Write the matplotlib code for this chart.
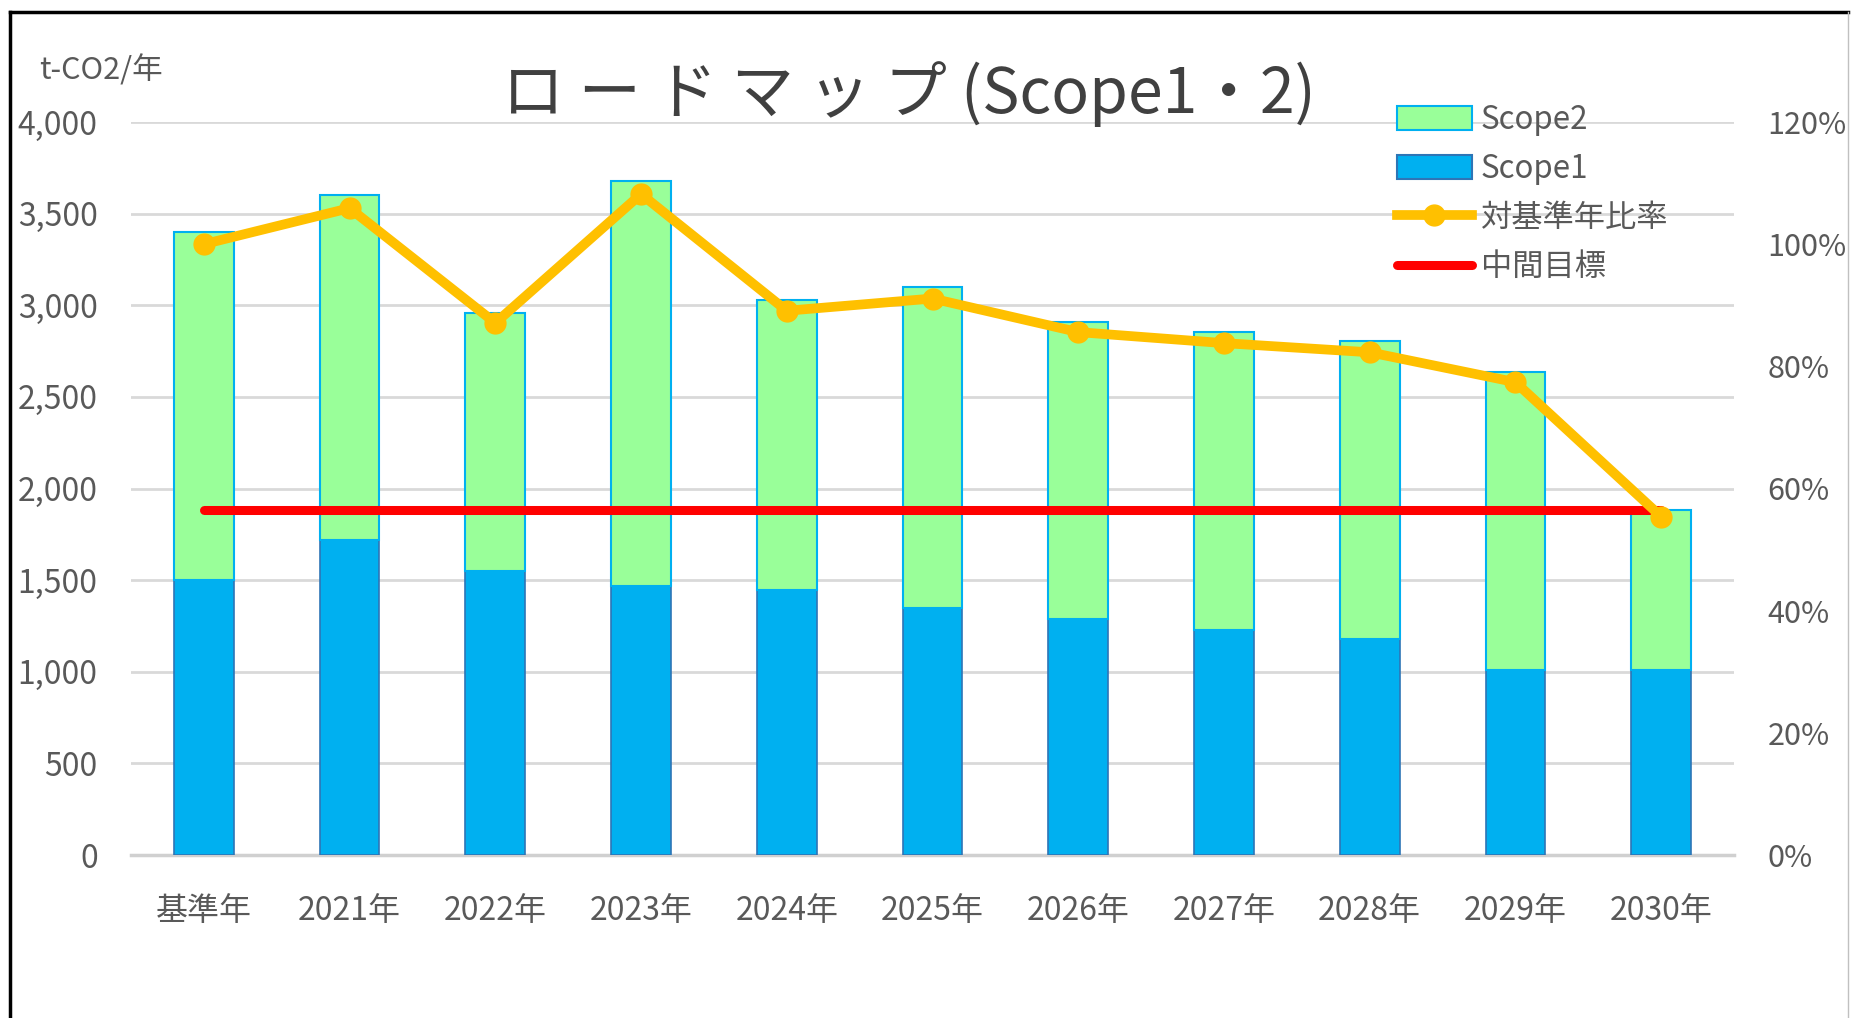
import matplotlib
matplotlib.use('Agg')
import matplotlib.pyplot as plt
from matplotlib.ticker import FuncFormatter, MultipleLocator
from matplotlib.patches import Patch
from matplotlib.lines import Line2D

plt.rcParams['font.family'] = ['Noto Sans CJK JP', 'DejaVu Sans']

# data
years = ['基準年', '2021年', '2022年', '2023年', '2024年', '2025年',
         '2026年', '2027年', '2028年', '2029年', '2030年']
scope1 = [1500, 1720, 1550, 1470, 1445, 1350, 1290, 1230, 1180, 1010, 1010]
scope2 = [1900, 1880, 1410, 2210, 1585, 1750, 1620, 1625, 1625, 1625, 875]
ratio = [1.000, 1.059, 0.871, 1.082, 0.891, 0.911, 0.856, 0.838, 0.823, 0.774, 0.554]
target = [1880] * 11

text_col = '#595959'
grid_col = '#D9D9D9'

fig = plt.figure(figsize=(18.51, 10.18), dpi=100)

# outer frame of the chart
fig.add_artist(plt.Line2D([10/1851, 10/1851], [0, 1 - 12/1018], transform=fig.transFigure,
                          color='black', lw=2.5))
fig.add_artist(plt.Line2D([10/1851, 1848/1851], [1 - 12/1018, 1 - 12/1018], transform=fig.transFigure,
                          color='black', lw=2.5))
fig.add_artist(plt.Line2D([1848/1851, 1848/1851], [0, 1 - 12/1018], transform=fig.transFigure,
                          color='#C0C0C0', lw=1))

ax = fig.add_axes([131/1851, 1 - 855/1018, (1734 - 131)/1851, (855 - 122)/1018])
x = list(range(len(years)))

ax.bar(x, scope1, width=0.41, color='#00B0F0', edgecolor='#2E75B6', linewidth=1.2, zorder=3)
ax.bar(x, scope2, width=0.41, bottom=scope1, color='#99FF99', edgecolor='#00B0F0',
       linewidth=1.5, zorder=3)
ax.plot(x, target, color='#FF0000', lw=6.5, solid_capstyle='round', zorder=4)

ax.set_xlim(-0.5, len(years) - 0.5)
ax.set_ylim(0, 4000)
ax.yaxis.set_major_locator(MultipleLocator(500))
ax.yaxis.set_major_formatter(FuncFormatter(lambda v, p: f'{int(v):,}'))
ax.grid(axis='y', color=grid_col, lw=2, zorder=0)
ax.set_axisbelow(True)
for s in ['top', 'right', 'left']:
    ax.spines[s].set_visible(False)
ax.spines['bottom'].set_color('#D0D0D0')
ax.spines['bottom'].set_linewidth(2.5)
ax.set_xticks(x)
ax.set_xticklabels(years)
ax.tick_params(axis='x', length=0, pad=29, labelsize=23, labelcolor=text_col)
ax.tick_params(axis='y', length=0, pad=24, labelsize=23, labelcolor=text_col)

ax2 = ax.twinx()
ax2.plot(x, ratio, color='#FFC000', lw=7, marker='o', markersize=15, zorder=5)
ax2.set_ylim(0, 1.2)
ax2.yaxis.set_major_locator(MultipleLocator(0.2))
ax2.yaxis.set_major_formatter(FuncFormatter(lambda v, p: f'{v*100:.0f}%'))
ax2.tick_params(axis='y', length=0, pad=24, labelsize=22, labelcolor=text_col)
for s in ['top', 'right', 'left', 'bottom']:
    ax2.spines[s].set_visible(False)

fig.text(39/1851, 1 - 71/1018, 't-CO2/年', fontsize=22, color=text_col, va='center', ha='left')
fig.text(909/1851, 1 - 94/1018, 'ロ ー ド マ ッ プ (Scope1・2)', fontsize=45, color='#404040',
         va='center', ha='center')

handles = [
    Patch(facecolor='#99FF99', edgecolor='#00B0F0', linewidth=1.5),
    Patch(facecolor='#00B0F0', edgecolor='#2E75B6', linewidth=1.5),
    Line2D([], [], color='#FFC000', lw=7, marker='o', markersize=15),
    Line2D([], [], color='#FF0000', lw=6.5, solid_capstyle='round'),
]
labels = ['Scope2', 'Scope1', '対基準年比率', '中間目標']
leg = fig.legend(handles, labels, loc='upper left', bbox_to_anchor=(1384/1851, 1 - 91/1018),
                 frameon=False, fontsize=22.5, handlelength=2.4, handleheight=0.8,
                 labelspacing=0.55, handletextpad=0.3, borderaxespad=0)
for t in leg.get_texts():
    t.set_color(text_col)

fig.savefig('out.png', dpi=100)
